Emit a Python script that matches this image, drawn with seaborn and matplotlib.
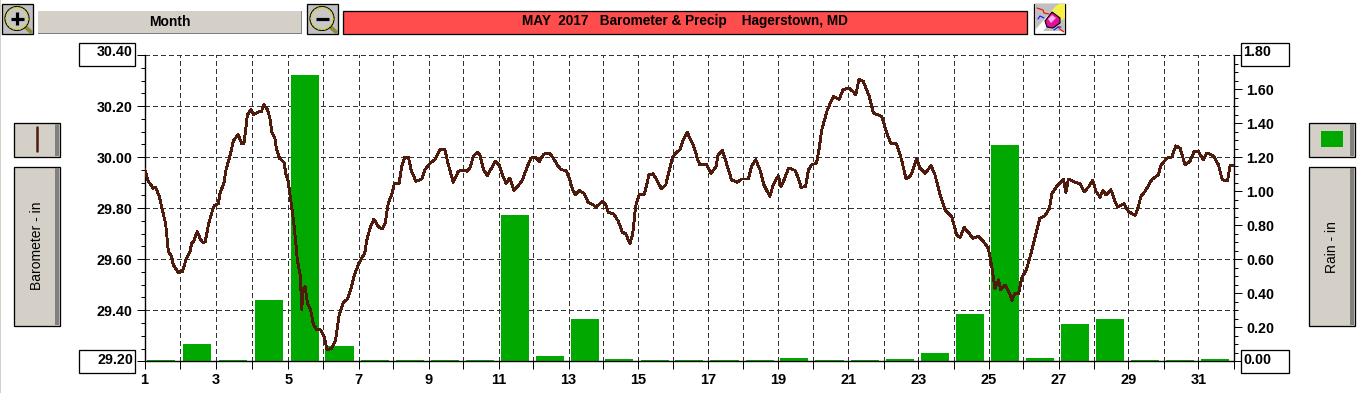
import numpy as np
import pandas as pd
import seaborn as sns
import matplotlib
matplotlib.use("Agg")
import matplotlib.pyplot as plt
from matplotlib.patches import Rectangle, Circle, Polygon

# ---------- data ----------
day_marks = [1.00, 2.02, 3.04, 4.07, 5.09, 6.08, 7.10, 8.08, 9.09, 10.07, 11.08, 12.07, 13.07, 14.05, 15.06, 16.04,
             17.04, 18.05, 19.03, 20.03, 21.03, 22.04, 23.03, 24.03, 25.03, 26.02, 27.02, 28.02, 29.01, 30.01, 31.00, 32.00]
day_labels = ["1", "", "3", "", "5", "", "7", "", "9", "", "11", "", "13", "", "15", "", "17", "", "19", "", "21", "",
              "23", "", "25", "", "27", "", "29", "", "31", ""]
rain_in = [0.006, 0.10, 0.006, 0.36, 1.68, 0.09, 0.006, 0.006, 0.006, 0.006, 0.86, 0.03, 0.25, 0.012, 0.006, 0.006,
           0.006, 0.006, 0.02, 0.006, 0.006, 0.012, 0.05, 0.28, 1.27, 0.02, 0.22, 0.25, 0.006, 0.006, 0.012]

baro_days = [1.00, 1.11, 1.25, 1.32, 1.42, 1.54, 1.60, 1.68, 1.77, 1.82, 1.96, 2.08, 2.18, 2.30, 2.34, 2.39, 2.50, 2.60,
             2.67, 2.73, 2.82, 2.91, 2.98, 3.10, 3.15, 3.26, 3.32, 3.43, 3.53, 3.67, 3.77, 3.83, 3.89, 3.93, 4.03, 4.10,
             4.19, 4.27, 4.33, 4.40, 4.50, 4.57, 4.63, 4.71, 4.76, 4.84, 4.97, 5.03, 5.09, 5.16, 5.24, 5.30, 5.35, 5.43,
             5.48, 5.50, 5.57, 5.64, 5.73, 5.81, 5.90, 6.01, 6.11, 6.20, 6.33, 6.44, 6.54, 6.66, 6.77, 6.87, 6.96,
             7.10, 7.27, 7.32, 7.42, 7.53, 7.65, 7.77, 7.85, 7.94, 8.05, 8.11, 8.25, 8.32, 8.41, 8.51, 8.60, 8.73, 8.89,
             8.98, 9.13, 9.27, 9.41, 9.55, 9.65, 9.79, 9.93, 10.08, 10.19, 10.28, 10.36, 10.47, 10.55, 10.65, 10.76,
             10.85, 10.98, 11.09, 11.21, 11.29, 11.40, 11.45, 11.52, 11.64, 11.76, 11.88, 12.00, 12.12, 12.24, 12.37,
             12.52, 12.64, 12.78, 12.87, 13.00, 13.09, 13.19, 13.27, 13.37, 13.51, 13.63, 13.78, 13.85, 14.03, 14.13,
             14.20, 14.35, 14.49, 14.60, 14.70, 14.82, 14.90, 14.98, 15.08, 15.22, 15.28, 15.36, 15.48, 15.58, 15.72,
             15.84, 15.93, 16.03, 16.15, 16.24, 16.36, 16.46, 16.53, 16.62, 16.75, 16.81, 17.00, 17.13, 17.27, 17.33,
             17.45, 17.55, 17.71, 17.87, 18.00, 18.19, 18.28, 18.40, 18.52, 18.63, 18.80, 18.90, 19.04, 19.12, 19.23,
             19.33, 19.52, 19.61, 19.69, 19.82, 19.90, 19.99, 20.13, 20.20, 20.28, 20.44, 20.61, 20.78, 20.88,
             21.04, 21.16, 21.25, 21.34, 21.46, 21.63, 21.75, 21.99, 22.13, 22.24, 22.41, 22.55, 22.68, 22.81, 22.98,
             23.08, 23.22, 23.39, 23.50, 23.65, 23.79, 23.98, 24.12, 24.22, 24.33, 24.47, 24.58, 24.74, 24.88, 25.02,
             25.12, 25.21, 25.31, 25.37, 25.50, 25.64, 25.69, 25.78, 25.88, 25.97, 26.11, 26.25, 26.38, 26.49, 26.63,
             26.76, 26.83, 26.97, 27.16, 27.23, 27.30, 27.49, 27.63, 27.75, 27.87, 27.99, 28.09, 28.20, 28.28, 28.37,
             28.51, 28.63, 28.70, 28.88, 29.01, 29.20, 29.29, 29.37, 29.48, 29.67, 29.86, 29.93, 30.10, 30.24, 30.36,
             30.48, 30.62, 30.76, 30.88, 31.00, 31.14, 31.24, 31.43, 31.57, 31.68, 31.83, 31.90, 31.99]
baro_in = [29.953, 29.905, 29.878, 29.881, 29.846, 29.774, 29.741, 29.630, 29.610, 29.578, 29.549, 29.552, 29.597, 29.630,
           29.663, 29.667, 29.708, 29.676, 29.665, 29.669, 29.735, 29.780, 29.809, 29.817, 29.859, 29.898, 29.950, 30.003,
           30.064, 30.088, 30.052, 30.052, 30.120, 30.166, 30.186, 30.166, 30.173, 30.179, 30.179, 30.205, 30.186, 30.153,
           30.094, 30.075, 30.029, 29.996, 29.979, 29.931, 29.905, 29.833, 29.754, 29.676, 29.597, 29.539, 29.404,
           29.480, 29.493, 29.427, 29.401, 29.342, 29.325, 29.323, 29.297, 29.244, 29.251, 29.284, 29.382, 29.430, 29.443,
           29.480, 29.532, 29.584, 29.624, 29.669, 29.722, 29.757, 29.728, 29.718, 29.741, 29.820, 29.859, 29.895, 29.898,
           29.963, 30.000, 30.000, 29.944, 29.905, 29.914, 29.950, 29.976, 29.990, 30.029, 30.029, 29.970, 29.901, 29.944,
           29.950, 29.944, 29.963, 30.003, 30.018, 30.009, 29.950, 29.927, 29.950, 29.983, 29.970, 29.924, 29.898, 29.918,
           29.898, 29.869, 29.888, 29.911, 29.957, 29.996, 30.000, 29.983, 30.012, 30.016, 29.996, 29.963, 29.950, 29.948,
           29.918, 29.872, 29.852, 29.869, 29.859, 29.822, 29.813, 29.804, 29.826, 29.813, 29.783, 29.778, 29.748, 29.706,
           29.699, 29.660, 29.702, 29.807, 29.852, 29.852, 29.882, 29.931, 29.935, 29.911, 29.875, 29.892, 29.944, 30.000,
           30.018, 30.029, 30.075, 30.098, 30.071, 30.048, 29.990, 29.970, 29.970, 29.937, 29.963, 30.009, 30.026, 29.983,
           29.911, 29.901, 29.914, 29.914, 29.963, 29.990, 29.950, 29.892, 29.846, 29.892, 29.927, 29.885, 29.918, 29.957,
           29.948, 29.918, 29.881, 29.885, 29.950, 29.970, 29.976, 30.029, 30.107, 30.186, 30.238, 30.227, 30.264,
           30.271, 30.258, 30.244, 30.306, 30.297, 30.238, 30.173, 30.159, 30.094, 30.055, 30.052, 29.990, 29.914, 29.927,
           29.992, 29.957, 29.937, 29.966, 29.931, 29.852, 29.793, 29.767, 29.695, 29.685, 29.725, 29.702, 29.682, 29.689,
           29.669, 29.643, 29.571, 29.486, 29.519, 29.480, 29.499, 29.460, 29.438, 29.467, 29.464, 29.525, 29.561, 29.630,
           29.702, 29.761, 29.770, 29.800, 29.856, 29.885, 29.914, 29.861, 29.914, 29.901, 29.895, 29.865, 29.882, 29.908,
           29.865, 29.843, 29.869, 29.852, 29.872, 29.826, 29.804, 29.817, 29.787, 29.771, 29.806, 29.848, 29.865, 29.911,
           29.931, 29.966, 29.996, 30.000, 30.044, 30.035, 29.970, 29.983, 30.022, 30.022, 29.990, 30.016, 30.005, 29.970,
           29.911, 29.908, 29.966, 29.966]
baro_ticks = [29.20, 29.40, 29.60, 29.80, 30.00, 30.20, 30.40]
rain_ticks = [0.00, 0.20, 0.40, 0.60, 0.80, 1.00, 1.20, 1.40, 1.60, 1.80]
title_text = "MAY  2017   Barometer & Precip    Hagerstown, MD"

n = min(len(baro_days), len(baro_in))
line_df = pd.DataFrame({"day": baro_days[:n], "baro": baro_in[:n]})
bar_df = pd.DataFrame({"pos": np.round(np.array(day_marks[:31]) + 0.47, 2), "rain": rain_in})

# ---------- style ----------
sns.set_theme(style="white")
plt.rcParams["font.family"] = ["Liberation Sans", "DejaVu Sans"]
W, H = 1365, 393
BROWN, GREEN, PANEL, SHADOW = "#4f1b0d", "#00a800", "#d4d0c8", "#808080"
px = 0.72

fig = plt.figure(figsize=(W / 100, H / 100), dpi=100, facecolor="white")
L, R, T, B = 144.5, 1233.5, 55.0, 361.3
rect = [L / W, 1 - B / H, (R - L) / W, (B - T) / H]

# grid layer follows the barometer scale and lies under the bars
ax_grid = fig.add_axes(rect, zorder=0)
ax_grid.set_xlim(1, 32)
ax_grid.set_ylim(29.2, 30.4)
ax_grid.set_xticks(day_marks)
ax_grid.set_yticks(baro_ticks)
ax_grid.tick_params(left=False, right=False, bottom=False, labelleft=False, labelbottom=False)
ax_grid.grid(True, color="#333333", lw=1 * px, linestyle=(0, (4.5, 4)), antialiased=False)
for s in ax_grid.spines.values():
    s.set_visible(False)

ax_rain = fig.add_axes(rect, zorder=1)
ax_rain.patch.set_visible(False)
ax_baro = ax_rain.twinx()
ax_baro.set_zorder(2)
ax_baro.patch.set_visible(False)

# bars
step = np.diff(bar_df["pos"]).min()
sns.barplot(data=bar_df, x="pos", y="rain", native_scale=True, width=0.80 / step, color=GREEN, saturation=1,
            errorbar=None, ax=ax_rain, zorder=3, linewidth=0)
# line
sns.lineplot(data=line_df, x="day", y="baro", estimator=None, sort=False, color=BROWN, lw=1.35, ax=ax_baro,
             antialiased=False, zorder=4)

for a in (ax_rain, ax_baro):
    a.set_xlim(1, 32)
    a.set_xlabel("")
    a.set_ylabel("")
ax_rain.set_ylim(0, 1.8)
ax_baro.set_ylim(29.2, 30.4)

ax_rain.set_xticks(day_marks)
ax_rain.set_xticklabels(day_labels, fontsize=10.5, fontweight="bold", color="black")
ax_baro.yaxis.tick_left()
ax_rain.yaxis.tick_right()
ax_baro.set_yticks(baro_ticks)
ax_baro.set_yticklabels([""] + [f"{v:.2f}" for v in baro_ticks[1:-1]] + [""], fontsize=10.3, fontweight="bold")
ax_baro.set_yticks(np.arange(29.2, 30.4001, 0.05), minor=True)
ax_rain.set_yticks(rain_ticks)
ax_rain.set_yticklabels([""] + [f"{v:.2f}" for v in rain_ticks[1:-1]] + [""], fontsize=10.3, fontweight="bold")
ax_rain.set_yticks(np.arange(0, 1.8001, 0.05), minor=True)

ax_rain.grid(False)
ax_baro.grid(False)
ax_rain.tick_params(axis="x", which="major", bottom=True, length=7.5 * px, width=1 * px, color="black", pad=4 * px)
ax_rain.tick_params(axis="y", which="major", right=True, left=False, length=8 * px, width=1 * px, color="black",
                    pad=5 * px, labelcolor="black")
ax_rain.tick_params(axis="y", which="minor", right=True, left=False, length=4 * px, width=1 * px, color="black")
ax_baro.tick_params(axis="y", which="major", left=True, right=False, length=8 * px, width=1 * px, color="black",
                    pad=4 * px, labelcolor="black")
ax_baro.tick_params(axis="y", which="minor", left=True, right=False, length=4 * px, width=1 * px, color="black")
for a in (ax_rain, ax_baro):
    for s, vis in dict(left=True, right=True, bottom=True, top=False).items():
        a.spines[s].set_visible(vis)
        a.spines[s].set_color("black")
        a.spines[s].set_linewidth(1.2 * px)

# ---------- window chrome in pixel coordinates ----------
ui = fig.add_axes([0, 0, 1, 1], zorder=5)
ui.set_xlim(0, W)
ui.set_ylim(H, 0)
ui.axis("off")


def box(x0, y0, x1, y1, fc, ec="black", lw=1.0, z=1):
    ui.add_patch(Rectangle((x0 - 0.5, y0), x1 - x0, y1 - y0, fc=fc, ec=ec, lw=lw * px if ec != "none" else 0, zorder=z))


def button(x0, y0, x1, y1):
    box(x0, y0, x1, y1, PANEL, lw=1.3)
    box(x1 - 5.5, y0 + 1, x1 - 0.7, y1 - 0.7, SHADOW, ec="none", z=2)


box(0, 0, 1.3, H, PANEL, ec="none")

# zoom-in / zoom-out icons
for x0, sign in ((2.5, "+"), (307.5, "-")):
    box(x0, 3.5, x0 + 30.5, 34, "#c0c0c0", lw=1.3)
    cx, cy = x0 + 14.5, 18.5
    ui.plot([cx + 9, cx + 14], [cy + 9, cy + 13.5], color="#8a8a3a", lw=3 * px * 1.3, zorder=2, solid_capstyle="round")
    ui.add_patch(Circle((cx, cy), 12, fc="#c8c8c8", ec="#000000", lw=0.8, zorder=2))
    ui.add_patch(Circle((cx, cy), 10.8, fc="none", ec="#d8d020", lw=1.2, ls=(0, (1.2, 0.8)), zorder=3))
    ui.plot([cx - 6.5, cx + 6.5], [cy, cy], color="black", lw=2.3, zorder=4, solid_capstyle="butt")
    if sign == "+":
        ui.plot([cx, cx], [cy - 6.5, cy + 6.5], color="black", lw=2.3, zorder=4, solid_capstyle="butt")

# Month button
box(38.5, 11, 302.5, 34, SHADOW, ec="none")
box(38.5, 11, 301, 32.7, PANEL, ec="none", z=2)
ui.text(170, 22.5, "Month", ha="center", va="center", fontsize=10, fontweight="bold", color="black", zorder=3)

# Title bar
box(343.5, 10.5, 1027.5, 34, "#ff4d4d", lw=1.3)
ui.text(685, 21, title_text, ha="center", va="center", fontsize=9.85, fontweight="bold", color="black", zorder=3)

# Eraser icon
box(1034.5, 3.5, 1065.5, 34, "white", lw=1.3)
ui.add_patch(Polygon([(1035, 4), (1058, 4), (1035, 30)], fc="#c0c0c0", ec="none", zorder=2))
ui.add_patch(Polygon([(1065, 8), (1065, 31), (1043, 31)], fc="#c0c0c0", ec="none", zorder=2))
ui.add_patch(Polygon([(1058, 4), (1065, 4), (1065, 18), (1058, 23), (1050, 13)], fc="#f6f04a", ec="none", zorder=3))
ui.plot([1037, 1043, 1044, 1049], [8, 10, 13, 14], color="#ff0000", lw=0.8, zorder=3)
ui.plot([1038, 1040, 1044], [19, 16, 18], color="#1010ff", lw=0.8, zorder=3)
ui.plot([1054, 1058, 1061], [30, 27, 27], color="#1010ff", lw=0.8, zorder=3)
ui.plot([1058, 1061, 1064], [27, 30, 32], color="#ff0000", lw=0.8, zorder=3)
ui.add_patch(Polygon([(1045, 21), (1052, 12), (1060, 18), (1060, 23), (1053, 28), (1047, 27)],
                     fc="#e0109a", ec="black", lw=0.8, zorder=4))
ui.add_patch(Polygon([(1048, 19), (1052, 15), (1056, 18), (1051, 23)], fc="#ffb0e8", ec="none", zorder=5))

# Side buttons
button(14.5, 122.5, 60.5, 156.5)
button(14.5, 166.5, 60.5, 325.5)
button(1309.5, 122.5, 1355.5, 156.5)
button(1309.5, 166.5, 1355.5, 325.5)
ui.plot([37, 37], [127, 151], color=BROWN, lw=1.8, zorder=3, solid_capstyle="round")
box(1321, 131, 1343, 147, GREEN, ec="none", z=3)
ui.text(37, 245.5, "Barometer - in", rotation=90, ha="center", va="center", fontsize=10, color="black", zorder=3)
ui.text(1331.5, 247, "Rain - in", rotation=90, ha="center", va="center", fontsize=10, color="black", zorder=3)

# Boxed axis-limit read-outs
for (x0, y0, x1, y1, tx, ty, ha, s) in (
        (79.5, 42.5, 135.5, 65.5, 133, 52, "right", f"{baro_ticks[-1]:.2f}"),
        (79.5, 349.5, 135.5, 372.5, 133, 359.5, "right", f"{baro_ticks[0]:.2f}"),
        (1241.5, 42.5, 1289.5, 65.5, 1243, 52, "left", f"{rain_ticks[-1]:.2f}"),
        (1241.5, 349.5, 1289.5, 372.5, 1243, 359.5, "left", f"{rain_ticks[0]:.2f}")):
    box(x0, y0, x1, y1, "white", lw=1.3)
    ui.text(tx, ty, s, ha=ha, va="center", fontsize=10.3, fontweight="bold", color="black", zorder=3)

fig.savefig("out.png", dpi=100, facecolor="white")
